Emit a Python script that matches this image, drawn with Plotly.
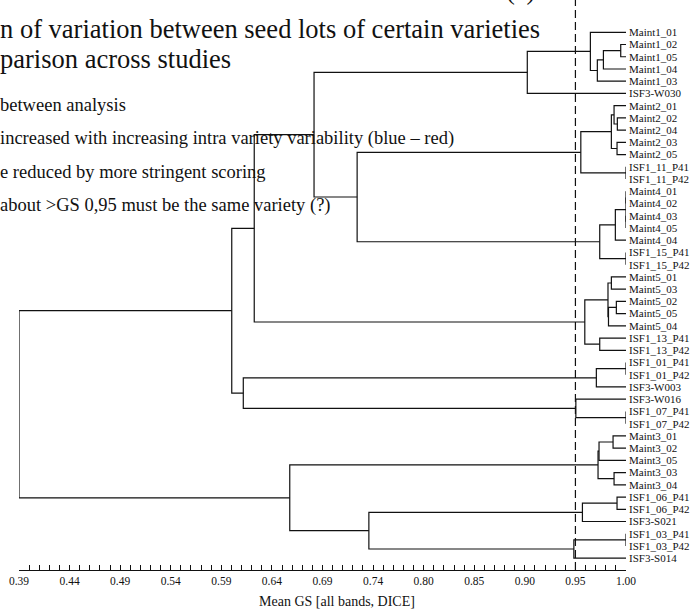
import numpy as np
import plotly.graph_objects as go

# ---------------- data ----------------
leaves = [
    "Maint1_01", "Maint1_02", "Maint1_05", "Maint1_04", "Maint1_03", "ISF3-W030",
    "Maint2_01", "Maint2_02", "Maint2_04", "Maint2_03", "Maint2_05",
    "ISF1_11_P41", "ISF1_11_P42",
    "Maint4_01", "Maint4_02", "Maint4_03", "Maint4_05", "Maint4_04",
    "ISF1_15_P41", "ISF1_15_P42",
    "Maint5_01", "Maint5_03", "Maint5_02", "Maint5_05", "Maint5_04",
    "ISF1_13_P41", "ISF1_13_P42",
    "ISF1_01_P41", "ISF1_01_P42", "ISF3-W003",
    "ISF3-W016", "ISF1_07_P41", "ISF1_07_P42",
    "Maint3_01", "Maint3_02", "Maint3_05", "Maint3_03", "Maint3_04",
    "ISF1_06_P41", "ISF1_06_P42", "ISF3-S021",
    "ISF1_03_P41", "ISF1_03_P42", "ISF3-S014",
]

# linkage (index >= len(leaves) refers to an earlier merge)
merge_a = [1, 44, 45, 0, 47, 7, 6, 9, 50, 11, 52, 13, 15, 55, 57, 18, 58, 54, 48,
           20, 22, 64, 63, 25, 66, 62, 27, 70, 31, 30, 71, 69,
           33, 76, 36, 77, 38, 80, 41, 82, 81, 79, 75]
merge_b = [2, 3, 4, 46, 5, 8, 49, 10, 51, 12, 53, 14, 16, 56, 17, 19, 59, 60, 61,
           21, 23, 24, 65, 26, 67, 68, 28, 29, 32, 72, 73, 74,
           34, 35, 37, 78, 39, 40, 42, 43, 83, 84, 85]
merge_h = [0.9947, 0.9773, 0.9712, 0.9642, 0.9008,
           0.9913, 0.9880, 0.9910, 0.9853, 1.0, 0.9546,
           1.0, 1.0, 1.0, 0.9893, 1.0, 0.9736, 0.7298, 0.6865,
           0.9853, 0.9903, 0.9824, 0.9819, 0.9736, 0.9586, 0.6264,
           1.0, 0.9702, 1.0, 0.9496, 0.6154, 0.6038,
           0.9870, 0.9729, 0.9880, 0.9719, 0.9910, 0.9562, 1.0, 0.9476,
           0.7416, 0.6621, 0.39]

tick_text = ["0.39", "0.44", "0.49", "0.54", "0.59", "0.64", "0.69",
             "0.74", "0.80", "0.85", "0.90", "0.95", "1.00"]
x_min, x_max = 0.39, 1.00
leaf_level = 1.0
threshold_index = 11  # tick "0.95"

title_lines = ["n of variation between seed lots of certain varieties",
               "parison across studies"]
bullet_lines = ["between analysis",
                "increased with increasing intra variety variability (blue \u2013 red)",
                "e reduced by more stringent scoring",
                "about >GS 0,95 must be the same variety (?)"]
x_title = "Mean GS [all bands, DICE]"

# ---------------- build dendrogram segments ----------------
n = len(leaves)
pos = {i: float(i) for i in range(n)}
lev = {i: leaf_level for i in range(n)}
xs, ys = [], []
for k, (a, b, h) in enumerate(zip(merge_a, merge_b, merge_h)):
    ya, yb = pos[a], pos[b]
    xs += [lev[a], h, h, lev[b], None]
    ys += [ya, ya, yb, yb, None]
    pos[n + k] = (ya + yb) / 2
    lev[n + k] = h

major_vals = np.linspace(x_min, x_max, len(tick_text))
minor_vals = np.linspace(x_min, x_max, (len(tick_text) - 1) * 5 + 1)

SERIF = "Liberation Serif"
INK = "#111111"
W, H = 690, 609
L, R, T, B = 19, 62, 0, 39
PW, PH = W - L - R, H - T - B


def px(x):
    return (x - L) / PW


def py(y):
    return 1 - (y - T) / PH


fig = go.Figure()
fig.add_trace(go.Scatter(
    x=xs, y=ys, mode="lines",
    line=dict(color=INK, width=1.2),
    cliponaxis=False, hoverinfo="skip", showlegend=False,
))

fig.add_shape(type="line", xref="x", yref="paper",
              x0=major_vals[threshold_index], x1=major_vals[threshold_index],
              y0=0, y1=1, line=dict(color=INK, width=1.2, dash="8px,4px"))

annotations = []
annotations.append(dict(text="(?)", x=px(506), y=py(-10), xref="paper", yref="paper",
                        xanchor="left", yanchor="middle", showarrow=False,
                        font=dict(family=SERIF, size=26.5, color=INK)))
for i, t in enumerate(title_lines):
    annotations.append(dict(text=t, x=px(-2), y=py([29, 59][i]), xref="paper", yref="paper",
                            xanchor="left", yanchor="middle", showarrow=False,
                            font=dict(family=SERIF, size=26.5, color=INK)))
for i, t in enumerate(bullet_lines):
    annotations.append(dict(text=t, x=px(-2), y=py([104.5, 138.5, 172, 205.5][i]),
                            xref="paper", yref="paper",
                            xanchor="left", yanchor="middle", showarrow=False,
                            font=dict(family=SERIF, size=18.5, color=INK)))
annotations.append(dict(text=x_title, x=px(338), y=py(601), xref="paper", yref="paper",
                        xanchor="center", yanchor="middle", showarrow=False,
                        font=dict(family=SERIF, size=14, color=INK)))

fig.update_layout(
    width=W, height=H,
    margin=dict(l=L, r=R, t=T, b=B, pad=0),
    paper_bgcolor="white", plot_bgcolor="white",
    showlegend=False,
    font=dict(family=SERIF, color=INK),
    annotations=annotations,
    xaxis=dict(
        range=[x_min, x_max], showgrid=False, zeroline=False,
        showline=True, linecolor=INK, linewidth=1,
        tickmode="array", tickvals=list(major_vals), ticktext=tick_text,
        ticks="inside", ticklen=5, tickwidth=1, tickcolor=INK,
        minor=dict(tickmode="array", tickvals=list(minor_vals), ticks="inside",
                   ticklen=5, tickwidth=1, tickcolor=INK, showgrid=False),
        tickfont=dict(family=SERIF, size=11.5, color=INK),
    ),
    yaxis=dict(
        range=[43.965, -2.64], side="right", showgrid=False, zeroline=False,
        showline=False, tickmode="array", tickvals=list(range(n)), ticktext=leaves,
        ticks="", ticklabelstandoff=2,
        tickfont=dict(family=SERIF, size=11, color=INK),
    ),
)

fig.write_html("out.html")
